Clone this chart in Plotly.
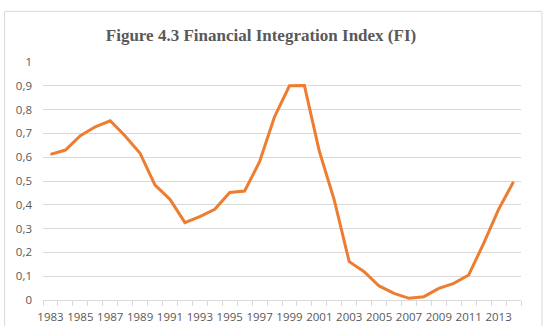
import plotly.graph_objects as go

years = list(range(1983, 2015))
fi_values = [0.612, 0.630, 0.690, 0.728, 0.753, 0.689, 0.616, 0.483, 0.423, 0.325,
             0.350, 0.381, 0.452, 0.458, 0.581, 0.770, 0.900, 0.901, 0.625, 0.420,
             0.161, 0.119, 0.059, 0.028, 0.007, 0.014, 0.049, 0.070, 0.105, 0.238,
             0.381, 0.497]
x_tick_labels = [str(y) for y in range(1983, 2015, 2)]
y_tick_vals = [i / 10 for i in range(0, 11)]

title_text = "Figure 4.3 Financial Integration Index (FI)"

W, H = 546, 326
L, R = 42.5, 521.5
T, B = 61.7, 300.0
pw, ph = R - L, B - T

fig = go.Figure()
fig.add_trace(go.Scatter(
    x=years, y=fi_values, mode="lines",
    line=dict(color="#ED7D31", width=3),
    hoverinfo="skip", showlegend=False,
))

def px2paper_x(px):
    return (px - L) / pw

def px2paper_y(py):
    return (B - py) / ph

fig.update_layout(
    width=W, height=H,
    margin=dict(l=L, r=W - R, t=T, b=H - B, pad=0, autoexpand=False),
    paper_bgcolor="white", plot_bgcolor="white",
    separators=",.",
    title=dict(text="<b>" + title_text + "</b>", x=261 / W, xanchor="center",
               y=1 - 35 / H, yanchor="middle", automargin=False,
               font=dict(family="Liberation Serif", size=17, color="#595959")),
    shapes=[dict(type="rect", xref="paper", yref="paper",
                 x0=px2paper_x(4), x1=px2paper_x(542.5),
                 y0=px2paper_y(340), y1=px2paper_y(11),
                 line=dict(color="#D9D9D9", width=1), layer="below")],
)

fig.update_xaxes(
    range=[1982.5, 2014.5], automargin=False,
    tickmode="array", tickvals=list(range(1983, 2015, 2)), ticktext=x_tick_labels,
    ticks="", showgrid=False, zeroline=False,
    showline=True, linecolor="#D9D9D9", linewidth=1,
    tickfont=dict(family="Open Sans", size=11.5, color="#595959"),
    ticklabelstandoff=6,
    minor=dict(tickmode="linear", tick0=1982.5, dtick=1, ticks="outside",
               ticklen=5, tickcolor="#D9D9D9", tickwidth=1, showgrid=False),
)

fig.update_yaxes(
    range=[0, 1], automargin=False, tickmode="array", tickvals=y_tick_vals,
    ticktext=[("0" if v == 0 else ("1" if v == 1 else ("%.1f" % v).replace(".", ","))) for v in y_tick_vals],
    showgrid=True, gridcolor="#D9D9D9", gridwidth=1, zeroline=False,
    showline=False, ticks="",
    tickfont=dict(family="Open Sans", size=11.5, color="#595959"),
    ticklabelstandoff=10,
)

fig.write_html("out.html")
